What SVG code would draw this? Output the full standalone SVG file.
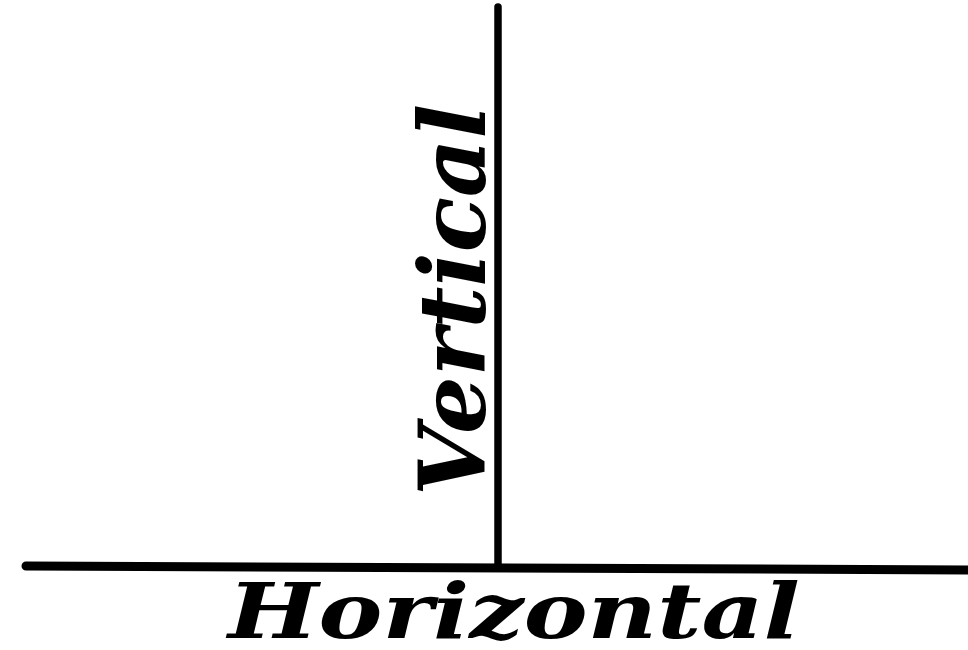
<svg xmlns="http://www.w3.org/2000/svg" width="968" height="650" viewBox="0 0 968 650">
<style>
.ln{stroke:#000;fill:none;stroke-linecap:round}
.lbl{font-family:"DejaVu Serif","Liberation Serif",serif;font-weight:bold;font-style:italic;fill:#000}
</style>
<rect width="968" height="650" fill="#fff"/>
<g id="connectors">
<line class="ln" x1="498" y1="7" x2="498" y2="564" stroke-width="7.5"/>
<line class="ln" x1="26" y1="566" x2="972" y2="570" stroke-width="9"/>
</g>
<g id="vertical-label">
<text class="lbl" transform="translate(485,496) rotate(-90)" x="0" y="0" font-size="92" textLength="392" lengthAdjust="spacingAndGlyphs">Vertical</text>
</g>
<g id="horizontal-label">
<text class="lbl" x="228" y="638" font-size="77" textLength="572" lengthAdjust="spacingAndGlyphs">Horizontal</text>
</g>
</svg>
